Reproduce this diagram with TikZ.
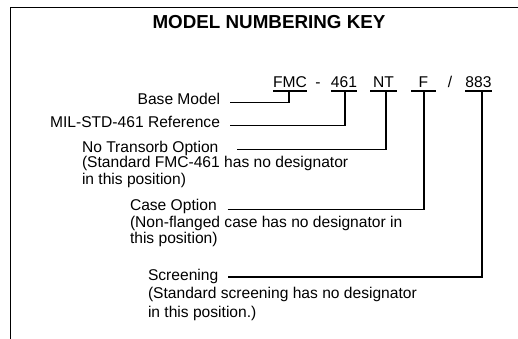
\documentclass[tikz,border=0pt]{standalone}
\usepackage{fontspec}
\setmainfont{Liberation Sans}
\begin{document}
\begin{tikzpicture}[x=1pt,y=-1pt,
  lab/.style={font=\fontsize{15.6}{16}\selectfont, inner sep=0pt, outer sep=0pt},
  code/.style={lab, anchor=base},
  conn/.style={line width=1.5pt},
  frame/.style={line width=1.4pt}]
\useasboundingbox (0,0) rectangle (518,339);
% frame
\draw[frame] (10.5,345) -- (10.5,7.5) -- (525,7.5);
% title
\node[font=\bfseries\fontsize{18.8}{20}\selectfont, anchor=base, inner sep=0pt] (title) at (269,29) {MODEL NUMBERING KEY};
% code row
\node[code, minimum width=34pt] (fmc) at (290,88) {FMC};
\node[code] (dash) at (318,88) {-};
\node[code, minimum width=26pt] (n461) at (344,88) {461};
\node[code, minimum width=27pt] (nt) at (383.5,88) {NT};
\node[code, minimum width=25pt] (f) at (423.5,88) {F};
\node[code] (slash) at (450,88) {/};
\node[code, minimum width=27pt] (n883) at (478.5,88) {883};
\foreach \c in {fmc,n461,nt,f,n883}
  \draw[conn] ([yshift=-3pt]\c.south west) -- ([yshift=-3pt]\c.south east);
% labels
\node[lab, anchor=base east] (bm) at (220,105) {Base Model};
\node[lab, anchor=base east] (mil) at (220,128) {MIL-STD-461 Reference};
\node[lab, anchor=base west] (ntl) at (82,152) {No Transorb Option};
\node[lab, anchor=base west] (ntn1) at (82,167.5) {(Standard FMC-461 has no designator};
\node[lab, anchor=base west] (ntn2) at (82,184) {in this position)};
\node[lab, anchor=base west] (cl) at (130,210) {Case Option};
\node[lab, anchor=base west] (cn1) at (130,227) {(Non-flanged case has no designator in};
\node[lab, anchor=base west] (cn2) at (130,243.5) {this position)};
\node[lab, anchor=base west] (sl) at (148,280) {Screening};
\node[lab, anchor=base west] (sn1) at (148,298.5) {(Standard screening has no designator};
\node[lab, anchor=base west] (sn2) at (148,317) {in this position.)};
% connectors
\draw[conn] ([xshift=10pt,yshift=2.5pt]bm.base east) -| ([xshift=-1pt,yshift=-3pt]fmc.south);
\draw[conn] ([xshift=10pt,yshift=2.5pt]mil.base east) -| ([xshift=1pt,yshift=-3pt]n461.south);
\draw[conn] ([xshift=19pt,yshift=2.5pt]ntl.base east) -| ([xshift=2.5pt,yshift=-3pt]nt.south);
\draw[conn] ([xshift=11pt,yshift=0.5pt]cl.base east) -| ([xshift=0.5pt,yshift=-3pt]f.south);
\draw[conn] ([xshift=10pt,yshift=3pt]sl.base east) -| ([xshift=3.5pt,yshift=-3pt]n883.south);
\end{tikzpicture}
\end{document}
